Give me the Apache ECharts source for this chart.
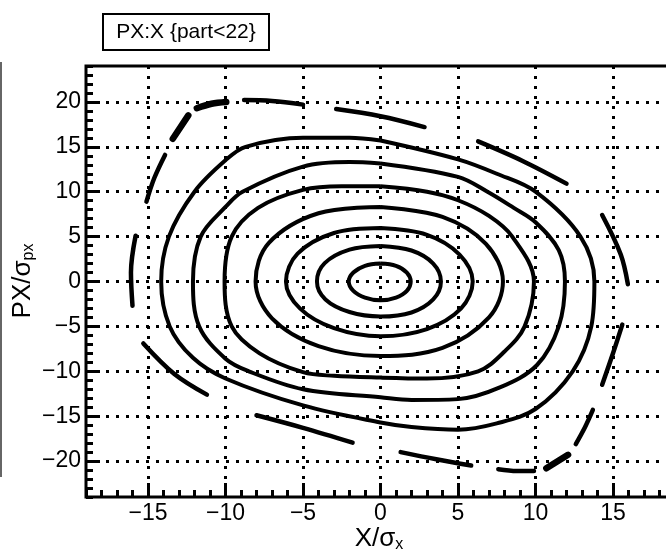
<!DOCTYPE html>
<html>
<head>
  <meta charset="utf-8">
</head>
<body style="margin: 0; background: #fff">
  <div id="container" style="width: 666px; height: 556px"></div>
  <script src="https://cdn.jsdelivr.net/npm/echarts@6/dist/echarts.min.js"></script>
  <script>
// phase space orbits, innermost first, points as [X/sx, PX/spx]
const orbit1 = [[0, 2.0], [1.0, 1.75], [1.7, 1.0], [1.95, 0], [1.7, -1.05], [1.0, -1.8], [0, -2.1],
  [-1.0, -1.8], [-1.75, -1.05], [-2.05, 0], [-1.75, 1.0], [-1.0, 1.75]];
const orbit2 = [[0, 3.95], [2, 3.45], [3.4, 2.0], [3.9, 0], [3.4, -2.0], [2, -3.45], [0, -3.9],
  [-2, -3.4], [-3.55, -2.0], [-4.1, 0], [-3.6, 2.05], [-2, 3.55]];
const orbit3 = [[0, 5.95], [3, 5.2], [5.1, 3.0], [5.95, 0], [5.2, -3.0], [3, -5.3], [0, -6.1],
  [-3, -5.2], [-5.2, -3.0], [-6.1, 0], [-5.35, 3.1], [-3, 5.4]];
const orbit4 = [[0, 8.3], [4, 7.2], [6.8, 4.2], [7.9, 0], [7.0, -4.0], [4, -7.4], [0, -8.3],
  [-4, -7.2], [-7.0, -4.1], [-8.06, 0], [-7.2, 4.3], [-4, 7.6]];
const orbit5 = [[0, 10.6], [3, 10.0], [5, 9.05], [7, 7.3], [8.5, 5], [9.9, 0], [9.3, -5], [8, -7.8],
  [6.3, -10], [3, -10.8], [0, -10.7], [-3, -10.5], [-5, -10.1], [-7.8, -8], [-9.6, -5], [-10.06, 0],
  [-9.6, 5], [-7.9, 8.2], [-5, 10.2], [-2.5, 10.6]];
const orbit6 = [[0, 13.15], [5, 11.65], [6.9, 10], [8.6, 8.2], [10, 6.6], [11.5, 3.5], [11.9, 0],
  [11.5, -5], [10.1, -9.3], [7.7, -11.8], [5, -13.1], [2, -13.2], [0, -12.9], [-5, -12.0], [-8.5, -10],
  [-10, -8.6], [-11.7, -5], [-12.1, 0], [-11.6, 5], [-10, 8.3], [-8.9, 10], [-5, 12.8], [-2, 13.3]];
const orbit7 = [[0, 15.7], [5, 13.6], [7.5, 12.0], [10, 10.0], [12.9, 5], [13.8, 0], [13.6, -5],
  [12.4, -10], [10, -14.2], [7.5, -15.8], [5, -16.5], [2, -16.2], [0, -15.7], [-5, -13.8], [-10, -10.8],
  [-12.1, -8.5], [-13.6, -5], [-14.15, 0], [-13.65, 5], [-12.0, 10], [-10, 13.5], [-8.7, 15],
  [-5, 16.0], [-2, 16.0]];

// outermost orbit is only seen as broken pieces
const outerDashes = [
  [[-8.8, 20.2], [-7, 20.1], [-5.0, 19.7]],
  [[-2.86, 19.2], [0, 18.4], [2.84, 17.2]],
  [[6.3, 15.6], [9.2, 13.4], [12.0, 10.9]],
  [[14.3, 7.4], [15.5, 3.0], [15.96, -0.3]],
  [[14.3, -11.5], [15.0, -8.0], [15.6, -4.8]],
  [[12.6, -18.1], [13.2, -16.2], [13.7, -14.3]],
  [[7.6, -20.9], [8.8, -21.1], [9.9, -21.1]],
  [[1.3, -19.0], [3.6, -19.8], [5.85, -20.5]],
  [[-8.0, -14.9], [-5, -16.3], [-1.8, -17.95]],
  [[-15.3, -6.9], [-13.3, -10.3], [-11.2, -12.6]],
  [[-15.8, 5.1], [-16.1, 1.0], [-16.0, -2.7]],
  [[-13.9, 14.1], [-14.6, 11.5], [-15.1, 8.9]]
];
const outerBlobs = [
  [[-11.85, 19.3], [-10.9, 19.8], [-9.95, 20.0]],
  [[-12.4, 18.5], [-13.4, 15.9]],
  [[10.7, -20.8], [12.1, -19.3]]
];

const xMajor = [-15, -10, -5, 0, 5, 10, 15];
const yMajor = [-20, -15, -10, -5, 0, 5, 10, 15, 20];
const chartTitle = 'PX:X {part<22}';

const FONT = '"Liberation Sans", Arial, sans-serif';
function fmt(v) { return v < 0 ? '\u2212' + (-v) : String(v); }

var dom = document.getElementById('container');
var myChart = echarts.init(dom, null, { renderer: 'canvas' });

var series = [];
[orbit1, orbit2, orbit3, orbit4, orbit5, orbit6, orbit7].forEach(function (pts) {
  series.push({
    type: 'line', data: pts.concat([pts[0]]), smooth: 0.35, showSymbol: false, silent: true,
    lineStyle: { color: '#000', width: 4 }
  });
});
outerDashes.forEach(function (seg) {
  series.push({
    type: 'line', data: seg, smooth: 0.35, showSymbol: false, silent: true,
    lineStyle: { color: '#000', width: 4.5, cap: 'round' }
  });
});
outerBlobs.forEach(function (seg) {
  series.push({
    type: 'line', data: seg, smooth: 0.35, showSymbol: false, silent: true,
    lineStyle: { color: '#000', width: 6.5, cap: 'round' }
  });
});

var tickLine = { color: '#000', width: 3 };
var gridLine = { color: '#000', width: 3, type: [3, 7] };
var labelStyle = { color: '#000', fontSize: 23, fontFamily: FONT, formatter: fmt };
var noLine = { show: false, onZero: false };

var option = {
  animation: false,
  backgroundColor: '#fff',
  grid: {
    left: 86, top: 66, width: 589, height: 431,
    show: true, borderColor: '#000', borderWidth: 3, backgroundColor: 'transparent',
    containLabel: false, outerBoundsMode: 'none'
  },
  xAxis: [
    {
      type: 'value', min: -19, max: 19, splitNumber: 8, position: 'bottom',
      axisLine: noLine,
      axisTick: { inside: true, length: 14, lineStyle: tickLine, customValues: xMajor },
      axisLabel: Object.assign({ margin: 5, customValues: xMajor }, labelStyle),
      splitLine: { show: true, lineStyle: gridLine }
    },
    {
      type: 'value', min: -19, max: 19, interval: 1, position: 'bottom', offset: 0,
      axisLine: noLine,
      axisTick: { inside: true, length: 7, lineStyle: tickLine },
      axisLabel: { show: false },
      splitLine: { show: false }
    }
  ],
  yAxis: [
    {
      type: 'value', min: -24, max: 24, splitNumber: 10, position: 'left',
      axisLine: noLine,
      axisTick: { inside: true, length: 14, lineStyle: tickLine, customValues: yMajor },
      axisLabel: Object.assign({ margin: 5, customValues: yMajor }, labelStyle),
      splitLine: { show: true, lineStyle: gridLine }
    },
    {
      type: 'value', min: -24, max: 24, interval: 1, position: 'left', offset: 0,
      axisLine: noLine,
      axisTick: { inside: true, length: 7, lineStyle: tickLine },
      axisLabel: { show: false },
      splitLine: { show: false }
    }
  ],
  graphic: [
    { type: 'rect', shape: { x: 0, y: 62, width: 2, height: 415 }, style: { fill: '#666' } },
    {
      type: 'rect', shape: { x: 103, y: 14, width: 166, height: 36 },
      style: { fill: '#fff', stroke: '#000', lineWidth: 2 }
    },
    {
      type: 'text', x: 186, y: 32,
      style: {
        text: chartTitle, font: '21px ' + FONT, fill: '#000',
        textAlign: 'center', textVerticalAlign: 'middle'
      }
    },
    {
      type: 'text', x: 379, y: 539,
      style: {
        text: '{m|X/\u03c3}{s|x}', textAlign: 'center', textVerticalAlign: 'middle',
        rich: {
          m: { fontSize: 26, fontFamily: FONT, fill: '#000' },
          s: { fontSize: 16, fontFamily: FONT, fill: '#000', padding: [11, 0, 0, 0] }
        }
      }
    },
    {
      type: 'text', x: 23, y: 281, rotation: Math.PI / 2,
      style: {
        text: '{m|PX/\u03c3}{s|px}', textAlign: 'center', textVerticalAlign: 'middle',
        rich: {
          m: { fontSize: 26, fontFamily: FONT, fill: '#000' },
          s: { fontSize: 16, fontFamily: FONT, fill: '#000', padding: [11, 0, 0, 0] }
        }
      }
    }
  ],
  series: series
};

myChart.setOption(option);
window.addEventListener('resize', myChart.resize);
  </script>
</body>
</html>
